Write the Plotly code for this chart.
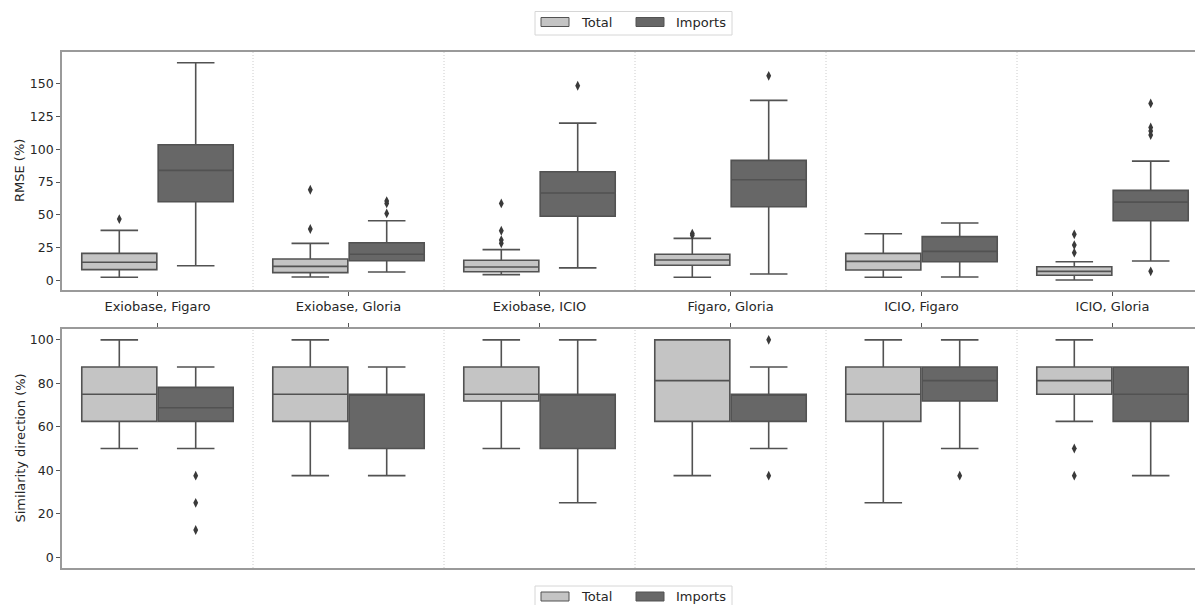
import plotly.graph_objects as go

# ---- data -------------------------------------------------------------
categories = ["Exiobase, Figaro", "Exiobase, Gloria", "Exiobase, ICIO",
              "Figaro, Gloria", "ICIO, Figaro", "ICIO, Gloria"]
series = ["Total", "Imports"]

# RMSE (%) box statistics per category
rmse_total_low = [2.6, 2.8, 4.6, 2.6, 2.6, 0.5]
rmse_total_q1 = [8.4, 6.1, 6.8, 11.7, 8.1, 4.1]
rmse_total_med = [14.0, 10.9, 10.4, 15.7, 14.7, 7.1]
rmse_total_q3 = [20.8, 16.5, 15.5, 20.1, 20.8, 10.6]
rmse_total_high = [38.3, 28.4, 23.6, 32.2, 35.7, 14.4]
rmse_total_out = [[46.9], [69.2, 39.3], [58.8, 38.0, 30.9, 28.4],
                  [35.8, 34.6], [], [35.3, 27.1, 21.3]]

rmse_imp_low = [11.4, 6.6, 9.7, 5.1, 2.8, 15.0]
rmse_imp_q1 = [60.1, 15.2, 49.0, 56.3, 14.4, 45.6]
rmse_imp_med = [83.9, 20.1, 66.7, 76.8, 22.3, 59.8]
rmse_imp_q3 = [103.4, 28.9, 82.9, 91.5, 33.5, 68.7]
rmse_imp_high = [165.8, 45.6, 119.9, 137.2, 43.9, 91.0]
rmse_imp_out = [[], [60.6, 58.8, 51.2], [148.3], [155.9], [],
                [134.9, 116.6, 113.8, 110.8, 7.1]]

# Similarity direction (%) box statistics per category
sim_total_low = [50, 37.5, 50, 37.5, 25, 62.5]
sim_total_q1 = [62.5, 62.5, 71.875, 62.5, 62.5, 75]
sim_total_med = [75, 75, 75, 81.25, 75, 81.25]
sim_total_q3 = [87.5, 87.5, 87.5, 100, 87.5, 87.5]
sim_total_high = [100, 100, 100, 100, 100, 100]
sim_total_out = [[], [], [], [], [], [50, 37.5]]

sim_imp_low = [50, 37.5, 25, 50, 50, 37.5]
sim_imp_q1 = [62.5, 50, 50, 62.5, 71.875, 62.5]
sim_imp_med = [68.75, 75, 75, 75, 81.25, 75]
sim_imp_q3 = [78.125, 75, 75, 75, 87.5, 87.5]
sim_imp_high = [87.5, 87.5, 100, 87.5, 100, 87.5]
sim_imp_out = [[37.5, 25, 12.5], [], [], [100, 37.5], [37.5], []]

rmse_ticks = [0, 25, 50, 75, 100, 125, 150]
sim_ticks = [0, 20, 40, 60, 80, 100]

# ---- style ------------------------------------------------------------
W, H = 1195, 605
FONT = "DejaVu Sans"
TXT = "#262626"
FILL = {"Total": "#c4c4c4", "Imports": "#676767"}
EDGE = "#525252"
SPINE = "#9a9a9a"
OFFSET = {"Total": -0.2, "Imports": 0.2}
BOX_W = 0.393

x_dom = [62 / W, 1.0]
top_dom = [1 - 290 / H, 1 - 52 / H]
bot_dom = [1 - 568 / H, 1 - 329 / H]
x_range = [-0.5, -0.5 + (W - 62) / 191.0]

fig = go.Figure()


def add_boxes(stats, outliers, name, xa, ya):
    low, q1, med, q3, high = stats
    pos = [i + OFFSET[name] for i in range(len(categories))]
    fig.add_trace(go.Box(
        x=pos, q1=q1, median=med, q3=q3, lowerfence=low, upperfence=high,
        orientation="v", width=BOX_W, whiskerwidth=0.5,
        fillcolor=FILL[name], line=dict(color=EDGE, width=1.6),
        boxpoints=False, name=name, showlegend=False,
        hoverinfo="skip", xaxis=xa, yaxis=ya,
    ))
    ox, oy = [], []
    for i, vals in enumerate(outliers):
        for v in vals:
            ox.append(i + OFFSET[name])
            oy.append(v)
    fig.add_trace(go.Scatter(
        x=ox, y=oy, mode="markers", showlegend=False, hoverinfo="skip",
        marker=dict(symbol="diamond-tall", size=7, color="#3a3a3a",
                    line=dict(width=0)),
        xaxis=xa, yaxis=ya,
    ))


add_boxes([rmse_total_low, rmse_total_q1, rmse_total_med, rmse_total_q3, rmse_total_high],
          rmse_total_out, "Total", "x", "y")
add_boxes([rmse_imp_low, rmse_imp_q1, rmse_imp_med, rmse_imp_q3, rmse_imp_high],
          rmse_imp_out, "Imports", "x", "y")
add_boxes([sim_total_low, sim_total_q1, sim_total_med, sim_total_q3, sim_total_high],
          sim_total_out, "Total", "x2", "y2")
add_boxes([sim_imp_low, sim_imp_q1, sim_imp_med, sim_imp_q3, sim_imp_high],
          sim_imp_out, "Imports", "x2", "y2")

# dotted separators between category groups
shapes = []
for xr, yr in (("x", "y domain"), ("x2", "y2 domain")):
    for i in range(len(categories) - 1):
        shapes.append(dict(type="line", xref=xr, yref=yr, x0=i + 0.5, x1=i + 0.5,
                           y0=0, y1=1,
                           line=dict(color="#cccccc", width=1, dash="1px,2px"),
                           layer="below"))

annotations = [
    dict(text="RMSE (%)", xref="paper", yref="paper", x=20 / W,
         y=(top_dom[0] + top_dom[1]) / 2, textangle=-90, showarrow=False,
         xanchor="center", yanchor="middle", font=dict(family=FONT, size=13, color=TXT)),
    dict(text="Similarity direction (%)", xref="paper", yref="paper", x=20 / W,
         y=(bot_dom[0] + bot_dom[1]) / 2, textangle=-90, showarrow=False,
         xanchor="center", yanchor="middle", font=dict(family=FONT, size=13, color=TXT)),
]


# legend frames (top and bottom), placed in pixel-derived paper coordinates
def px(xp):
    return xp / W


def py(yp):
    return 1 - yp / H


def add_legend(top):
    shapes.append(dict(type="rect", xref="paper", yref="paper",
                       x0=px(535), x1=px(732), y0=py(top + 23.5), y1=py(top),
                       line=dict(color="#d6d6d6", width=1), fillcolor="white",
                       layer="above"))
    cy = top + 10.5
    for name, x0, tx in (("Total", 541, 579), ("Imports", 636, 674)):
        shapes.append(dict(type="rect", xref="paper", yref="paper",
                           x0=px(x0), x1=px(x0 + 28), y0=py(cy + 4.5), y1=py(cy - 4.5),
                           line=dict(color=EDGE, width=1), fillcolor=FILL[name],
                           layer="above"))
        annotations.append(dict(text=name, xref="paper", yref="paper", x=px(tx),
                                y=py(cy), xanchor="left", yanchor="middle",
                                showarrow=False,
                                font=dict(family=FONT, size=13, color=TXT)))


add_legend(11.5)
add_legend(586)

axis_common = dict(showline=True, linecolor=SPINE, linewidth=1.6, showgrid=False,
                   zeroline=False, ticks="outside", ticklen=4, tickwidth=1,
                   tickcolor="#555555", automargin=False)
yfont = dict(family=FONT, size=12.5, color=TXT)
xfont = dict(family=FONT, size=13, color=TXT)

fig.update_layout(
    width=W, height=H, margin=dict(l=0, r=0, t=0, b=0),
    paper_bgcolor="white", plot_bgcolor="white",
    boxmode="overlay", showlegend=False,
    font=dict(family=FONT, color=TXT),
    xaxis=dict(domain=x_dom, range=x_range, anchor="y", mirror=True,
               tickvals=list(range(len(categories))), ticktext=categories,
               tickfont=xfont, **axis_common),
    yaxis=dict(domain=top_dom, range=[-7.1, 174], anchor="x",
               tickvals=rmse_ticks, tickfont=yfont, **axis_common),
    xaxis2=dict(domain=x_dom, range=x_range, anchor="y2", mirror=True, side="top",
                tickvals=list(range(len(categories))), showticklabels=False,
                tickfont=xfont, **axis_common),
    yaxis2=dict(domain=bot_dom, range=[-5, 105], anchor="x2",
                tickvals=sim_ticks, tickfont=yfont, **axis_common),
    shapes=shapes, annotations=annotations,
)

fig.write_html("out.html")
